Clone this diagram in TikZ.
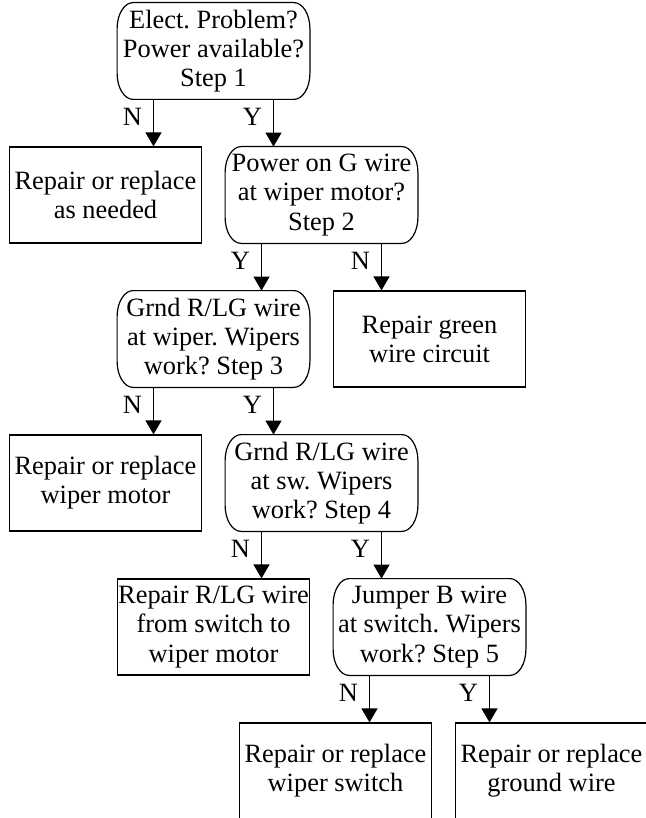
\documentclass[tikz,border=0pt]{standalone}
\usepackage{fontspec}
\setmainfont{Liberation Serif}
\usetikzlibrary{arrows.meta}
\frenchspacing

\begin{document}
\begin{tikzpicture}[x=1pt,y=1pt,font=\fontsize{13.2}{14.6}\selectfont,
  level distance=72pt,sibling distance=108pt,
  edge from parent/.style={draw,line width=0.6pt,-{Triangle[width=8pt,length=7pt]}},
  nl/.style={edge from parent path={([xshift=-30pt]\tikzparentnode.south) -- ([xshift=-30pt]\tikzparentnode.south |- \tikzchildnode.north)}},
  nr/.style={edge from parent path={([xshift=30pt]\tikzparentnode.south) -- ([xshift=30pt]\tikzparentnode.south |- \tikzchildnode.north)}}]
\tikzstyle{fix}=[draw,line width=0.6pt,minimum width=96pt,minimum height=48pt,inner sep=0pt,align=center]
\tikzstyle{ask}=[minimum width=96pt,minimum height=48pt,inner sep=0pt,align=center]
\tikzstyle{yn}=[left,pos=0.37,inner xsep=5.5pt,inner ysep=0pt]
\useasboundingbox (0,0) rectangle (323,-409);
\clip (0,0) rectangle (323,-409);
\node[ask] (s1) at (106.75,-25.5) {Elect. Problem?\\Power available?\\Step 1}
  child[nl] {node[fix] (f1) {Repair or replace\\as needed} edge from parent node[yn] {N}}
  child[nr] {node[ask] (s2) {Power on G wire\\at wiper motor?\\Step 2}
    child[nl] {node[ask] (s3) {Grnd R/LG wire\\at wiper. Wipers\\work? Step 3}
      child[nl] {node[fix] (f3) {Repair or replace\\wiper motor} edge from parent node[yn] {N}}
      child[nr] {node[ask] (s4) {Grnd R/LG wire\\at sw. Wipers\\work? Step 4}
        child[nl] {node[fix] (f4) {Repair R/LG wire\\from switch to\\wiper motor} edge from parent node[yn] {N}}
        child[nr] {node[ask] (s5) {Jumper B wire\\at switch. Wipers\\work? Step 5}
          child[nl,xshift=7pt] {node[fix] (f5) {Repair or replace\\wiper switch} edge from parent node[yn] {N}}
          child[nr,xshift=7pt] {node[fix] (f6) {Repair or replace\\ground wire} edge from parent node[yn] {Y}}
          edge from parent node[yn] {Y}
        }
        edge from parent node[yn] {Y}
      }
      edge from parent node[yn] {Y}
    }
    child[nr] {node[fix] (f2) {Repair green\\wire circuit} edge from parent node[yn] {N}}
    edge from parent node[yn] {Y}
  };
% decision boxes: elliptic corners
\foreach \n in {s1,s2,s3,s4,s5}
  \draw[line width=0.6pt] ([xshift=8pt]\n.north west) -- ([xshift=-8pt]\n.north east)
    arc[start angle=90,end angle=0,x radius=8pt,y radius=13pt]
    -- ([yshift=13pt]\n.south east)
    arc[start angle=0,end angle=-90,x radius=8pt,y radius=13pt]
    -- ([xshift=8pt]\n.south west)
    arc[start angle=270,end angle=180,x radius=8pt,y radius=13pt]
    -- ([yshift=-13pt]\n.north west)
    arc[start angle=180,end angle=90,x radius=8pt,y radius=13pt]
    -- cycle;
\end{tikzpicture}
\end{document}
